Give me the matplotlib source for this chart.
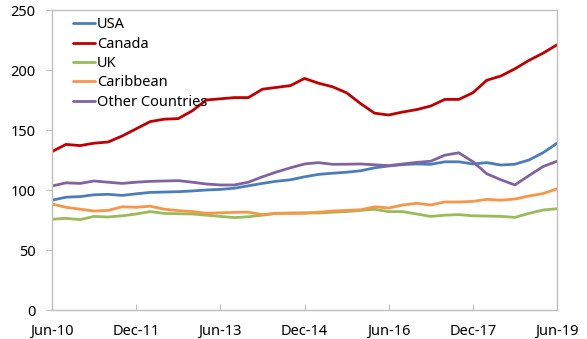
import matplotlib
matplotlib.use("Agg")
import matplotlib.pyplot as plt

plt.rcParams['font.family'] = ['Noto Sans', 'DejaVu Sans']

# Quarterly observations, months since Jun-2010
months = list(range(0, 109, 3))

usa = [91.5, 94, 94.5, 96, 96.4, 95.5, 96.8, 98, 98.3, 98.6, 99.2, 100, 100.5,
       101.5, 103.5, 105.5, 107.3, 108.5, 111, 113, 114, 114.8, 116, 118.5, 120,
       121.2, 121.7, 121.4, 123.5, 123.5, 121.7, 122.8, 120.8, 121.5, 125, 131, 139]
canada = [132, 138, 137, 139, 140, 145, 151, 157, 159, 159.5, 166, 175, 176,
          177, 177, 184, 185.5, 187, 193, 189, 186, 181, 172, 164, 162.5, 165,
          167, 170, 175.5, 175.5, 181, 191.5, 195, 201, 208, 214, 221]
uk = [75.6, 76.4, 75.3, 78, 77.5, 78.5, 80, 82, 80.5, 80.2, 80, 79, 78, 77,
      77.7, 79, 80.6, 80.8, 81, 80.8, 81.5, 82, 83, 83.9, 82, 82, 80, 78, 79,
      79.5, 78.5, 78.3, 78, 77.2, 80.5, 83.3, 84.4]
caribbean = [88.3, 85.6, 84, 82.5, 83, 86, 85.6, 86.5, 84, 82.8, 82, 80.6, 81,
             81.4, 81.5, 79.5, 80.5, 80.6, 80.6, 81.5, 82.5, 83, 83.5, 86, 85,
             87.5, 88.9, 87.5, 90, 90, 90.5, 92.2, 91.5, 92.5, 95, 97, 101]
other = [103.3, 106, 105.5, 107.5, 106.5, 105.5, 106.5, 107.2, 107.5, 107.8,
         106.5, 105, 104.2, 104.2, 106.5, 111, 115, 118.5, 121.7, 122.8, 121.4,
         121.5, 121.7, 121, 120.3, 121.7, 123, 124, 129, 131, 123.6, 113.5,
         108.5, 104.2, 112, 119.5, 124]

tick_months = [0, 18, 36, 54, 72, 90, 108]
tick_labels = ["Jun-10", "Dec-11", "Jun-13", "Dec-14", "Jun-16", "Dec-17", "Jun-19"]

series = [
    ("USA", usa, "#4A7EBB"),
    ("Canada", canada, "#C00000"),
    ("UK", uk, "#9BBB59"),
    ("Caribbean", caribbean, "#F79646"),
    ("Other Countries", other, "#8064A2"),
]

fig = plt.figure(figsize=(5.87, 3.39), dpi=100)
ax = fig.add_axes([52 / 587, 29 / 339, 505 / 587, 300 / 339])

for name, vals, col in series:
    ax.plot(months, vals, color=col, lw=2.0, label=name, solid_capstyle='round')

ax.set_xlim(0, 108)
ax.set_ylim(0, 250)
ax.set_yticks([0, 50, 100, 150, 200, 250])
ax.set_xticks(tick_months)
ax.set_xticklabels(tick_labels)

for s in ax.spines.values():
    s.set_color("#BFBFBF")
    s.set_linewidth(1.0)

ax.tick_params(axis='y', direction='out', length=4, color="#BFBFBF",
               labelsize=10.5, labelcolor="#000000", pad=8)
ax.tick_params(axis='x', direction='in', length=4, color="#BFBFBF",
               labelsize=10.5, labelcolor="#000000", pad=10)

leg = ax.legend(loc='upper left', bbox_to_anchor=(0.025, 1.005), frameon=False,
                fontsize=10.5, handlelength=1.5, handletextpad=0.1,
                labelspacing=0.3, borderaxespad=0.2)

fig.savefig("out.png", dpi=100)
